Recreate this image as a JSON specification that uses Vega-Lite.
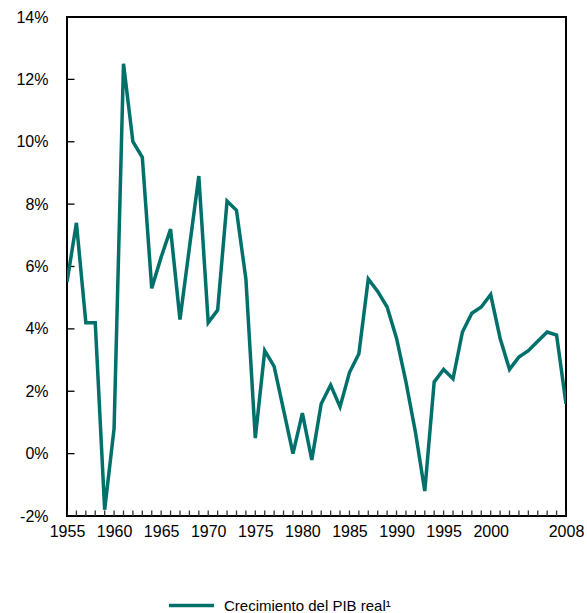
{
  "$schema": "https://vega.github.io/schema/vega-lite/v6.json",
  "width": 499,
  "height": 499,
  "autosize": {"type": "none"},
  "padding": {"left": 67, "top": 17, "right": 21, "bottom": 97},
  "background": "white",
  "config": {
    "font": "Liberation Sans",
    "view": {"stroke": "black", "strokeWidth": 2},
    "axis": {"grid": false, "domain": false, "ticks": false, "labelFont": "Liberation Sans", "labelFontSize": 16, "labelColor": "black"}
  },
  "datasets": {
    "pib": [
      {"year": 1955, "g": 5.5, "serie": "Crecimiento del PIB real¹"},
      {"year": 1956, "g": 7.4, "serie": "Crecimiento del PIB real¹"},
      {"year": 1957, "g": 4.2, "serie": "Crecimiento del PIB real¹"},
      {"year": 1958, "g": 4.2, "serie": "Crecimiento del PIB real¹"},
      {"year": 1959, "g": -1.8, "serie": "Crecimiento del PIB real¹"},
      {"year": 1960, "g": 0.8, "serie": "Crecimiento del PIB real¹"},
      {"year": 1961, "g": 12.5, "serie": "Crecimiento del PIB real¹"},
      {"year": 1962, "g": 10.0, "serie": "Crecimiento del PIB real¹"},
      {"year": 1963, "g": 9.5, "serie": "Crecimiento del PIB real¹"},
      {"year": 1964, "g": 5.3, "serie": "Crecimiento del PIB real¹"},
      {"year": 1965, "g": 6.3, "serie": "Crecimiento del PIB real¹"},
      {"year": 1966, "g": 7.2, "serie": "Crecimiento del PIB real¹"},
      {"year": 1967, "g": 4.3, "serie": "Crecimiento del PIB real¹"},
      {"year": 1968, "g": 6.6, "serie": "Crecimiento del PIB real¹"},
      {"year": 1969, "g": 8.9, "serie": "Crecimiento del PIB real¹"},
      {"year": 1970, "g": 4.2, "serie": "Crecimiento del PIB real¹"},
      {"year": 1971, "g": 4.6, "serie": "Crecimiento del PIB real¹"},
      {"year": 1972, "g": 8.1, "serie": "Crecimiento del PIB real¹"},
      {"year": 1973, "g": 7.8, "serie": "Crecimiento del PIB real¹"},
      {"year": 1974, "g": 5.6, "serie": "Crecimiento del PIB real¹"},
      {"year": 1975, "g": 0.5, "serie": "Crecimiento del PIB real¹"},
      {"year": 1976, "g": 3.3, "serie": "Crecimiento del PIB real¹"},
      {"year": 1977, "g": 2.8, "serie": "Crecimiento del PIB real¹"},
      {"year": 1978, "g": 1.4, "serie": "Crecimiento del PIB real¹"},
      {"year": 1979, "g": 0.0, "serie": "Crecimiento del PIB real¹"},
      {"year": 1980, "g": 1.3, "serie": "Crecimiento del PIB real¹"},
      {"year": 1981, "g": -0.2, "serie": "Crecimiento del PIB real¹"},
      {"year": 1982, "g": 1.6, "serie": "Crecimiento del PIB real¹"},
      {"year": 1983, "g": 2.2, "serie": "Crecimiento del PIB real¹"},
      {"year": 1984, "g": 1.5, "serie": "Crecimiento del PIB real¹"},
      {"year": 1985, "g": 2.6, "serie": "Crecimiento del PIB real¹"},
      {"year": 1986, "g": 3.2, "serie": "Crecimiento del PIB real¹"},
      {"year": 1987, "g": 5.6, "serie": "Crecimiento del PIB real¹"},
      {"year": 1988, "g": 5.2, "serie": "Crecimiento del PIB real¹"},
      {"year": 1989, "g": 4.7, "serie": "Crecimiento del PIB real¹"},
      {"year": 1990, "g": 3.7, "serie": "Crecimiento del PIB real¹"},
      {"year": 1991, "g": 2.3, "serie": "Crecimiento del PIB real¹"},
      {"year": 1992, "g": 0.7, "serie": "Crecimiento del PIB real¹"},
      {"year": 1993, "g": -1.2, "serie": "Crecimiento del PIB real¹"},
      {"year": 1994, "g": 2.3, "serie": "Crecimiento del PIB real¹"},
      {"year": 1995, "g": 2.7, "serie": "Crecimiento del PIB real¹"},
      {"year": 1996, "g": 2.4, "serie": "Crecimiento del PIB real¹"},
      {"year": 1997, "g": 3.9, "serie": "Crecimiento del PIB real¹"},
      {"year": 1998, "g": 4.5, "serie": "Crecimiento del PIB real¹"},
      {"year": 1999, "g": 4.7, "serie": "Crecimiento del PIB real¹"},
      {"year": 2000, "g": 5.1, "serie": "Crecimiento del PIB real¹"},
      {"year": 2001, "g": 3.7, "serie": "Crecimiento del PIB real¹"},
      {"year": 2002, "g": 2.7, "serie": "Crecimiento del PIB real¹"},
      {"year": 2003, "g": 3.1, "serie": "Crecimiento del PIB real¹"},
      {"year": 2004, "g": 3.3, "serie": "Crecimiento del PIB real¹"},
      {"year": 2005, "g": 3.6, "serie": "Crecimiento del PIB real¹"},
      {"year": 2006, "g": 3.9, "serie": "Crecimiento del PIB real¹"},
      {"year": 2007, "g": 3.8, "serie": "Crecimiento del PIB real¹"},
      {"year": 2008, "g": 1.6, "serie": "Crecimiento del PIB real¹"}
    ],
    "yticks": [
      {"v": -2}, {"v": 0}, {"v": 2}, {"v": 4}, {"v": 6}, {"v": 8}, {"v": 10}, {"v": 12}, {"v": 14}
    ]
  },
  "layer": [
    {
      "data": {"name": "pib"},
      "mark": {"type": "tick", "orient": "vertical", "size": 11, "thickness": 1.3, "color": "#333333", "opacity": 1, "clip": true},
      "encoding": {
        "x": {"field": "year", "type": "quantitative"},
        "y": {"datum": -2, "type": "quantitative"}
      }
    },
    {
      "data": {"name": "yticks"},
      "mark": {"type": "tick", "orient": "horizontal", "size": 15, "thickness": 1.3, "color": "black", "opacity": 1, "clip": true},
      "encoding": {
        "y": {"field": "v", "type": "quantitative"},
        "x": {"datum": 1955, "type": "quantitative"}
      }
    },
    {
      "data": {"name": "pib"},
      "mark": {"type": "line", "strokeWidth": 3.5, "clip": true},
      "encoding": {
        "x": {
          "field": "year", "type": "quantitative",
          "scale": {"domain": [1955, 2008], "nice": false, "zero": false},
          "axis": {
            "title": null,
            "values": [1955, 1960, 1965, 1970, 1975, 1980, 1985, 1990, 1995, 2000, 2008],
            "format": "d",
            "labelOverlap": false,
            "labelFlush": false,
            "labelPadding": 7
          }
        },
        "y": {
          "field": "g", "type": "quantitative",
          "scale": {"domain": [-2, 14], "nice": false, "zero": false},
          "axis": {
            "title": null,
            "values": [-2, 0, 2, 4, 6, 8, 10, 12, 14],
            "labelExpr": "datum.value + '%'",
            "labelPadding": 19
          }
        },
        "color": {
          "field": "serie", "type": "nominal",
          "scale": {"range": ["#00706B"]},
          "legend": {
            "title": null,
            "orient": "none",
            "legendX": 100,
            "legendY": 564,
            "symbolType": "stroke",
            "symbolSize": 2025,
            "symbolStrokeWidth": 3.5,
            "labelFontSize": 15,
            "labelFont": "Liberation Sans",
            "labelColor": "black",
            "labelOffset": 8,
            "labelLimit": 0
          }
        }
      }
    }
  ]
}
